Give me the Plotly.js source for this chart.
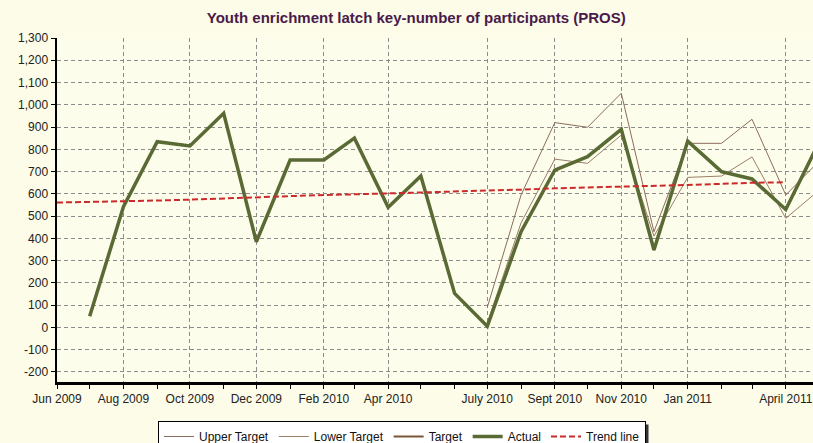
<!DOCTYPE html>
<html>
<head>
<meta charset="utf-8">
<script src="https://cdn.plot.ly/plotly-3.0.1.min.js"></script>
<style>
  html, body { margin: 0; padding: 0; background: #fcfce8; }
  #chart { width: 813px; height: 443px; }
</style>
</head>
<body>
<div id="chart"></div>
<script>
// Months (categories)
var months = ['2009-06-01','2009-07-01','2009-08-01','2009-09-01','2009-10-01','2009-11-01','2009-12-01',
  '2010-01-01','2010-02-01','2010-03-01','2010-04-01','2010-05-01','2010-06-01','2010-07-01','2010-08-01',
  '2010-09-01','2010-10-01','2010-11-01','2010-12-01','2011-01-01','2011-02-01','2011-03-01','2011-04-01','2011-05-01'];

// Series values (null = no value)
var actual = [null, 50, 542, 834, 815, 962, 385, 752, 752, 850, 540, 680, 153, 5, 430, 707, 767, 890, 348, 837, 700, 667, 530, 826];
var upperTarget = [null, null, null, null, null, null, null, null, null, null, null, null, null, 90, 595, 920, 899, 1052, 430, 827, 827, 935, 595, 744];
var lowerTarget = [null, null, null, null, null, null, null, null, null, null, null, null, null, 20, 470, 756, 737, 864, 410, 674, 680, 766, 490, 614];
var target = [null, null, null, null, null, null, null, null, null, null, null, null, null, 5, 430, 707, 767, 890, 348, 837, 700, 667, 530, 826];
var trend = [561, 563, 566, 570, 574, 580, 586, 590, 595, 598, 602, 606, 610, 613, 619, 625, 628, 632, 636, 640, 645, 650, 652, null];

// Tick labels
var xTickVals = ['2009-06-01','2009-08-01','2009-10-01','2009-12-01','2010-02-01','2010-04-01','2010-07-01','2010-09-01','2010-11-01','2011-01-01','2011-04-01'];
var xTickText = ['Jun 2009','Aug 2009','Oct 2009','Dec 2009','Feb 2010','Apr 2010','July 2010','Sept 2010','Nov 2010','Jan 2011','April 2011'];
var yTickVals = [-200,-100,0,100,200,300,400,500,600,700,800,900,1000,1100,1200,1300];
var yTickText = yTickVals.map(function(v){ return v.toLocaleString('en-US'); });

var traces = [
  {name: 'Upper Target', x: months, y: upperTarget, type: 'scatter', mode: 'lines',
   line: {color: '#8a6d5c', width: 1}},
  {name: 'Lower Target', x: months, y: lowerTarget, type: 'scatter', mode: 'lines',
   line: {color: '#9a7f66', width: 1}},
  {name: 'Target', x: months, y: target, type: 'scatter', mode: 'lines',
   line: {color: '#7a5535', width: 2}},
  {name: 'Actual', x: months, y: actual, type: 'scatter', mode: 'lines',
   line: {color: '#5a6a35', width: 3.5}},
  {name: 'Trend line', x: months, y: trend, type: 'scatter', mode: 'lines',
   line: {color: '#cc2a2a', width: 2, dash: '6px,3px'}}
];

var W = 813, H = 443, L = 57, R = 0, T = 38, B = 61;

var layout = {
  width: W, height: H,
  margin: {l: L, r: R, t: T, b: B, pad: 0, autoexpand: false},
  paper_bgcolor: '#fcfce8',
  plot_bgcolor: '#fdfdec',
  title: {text: '<b>Youth enrichment latch key-number of participants (PROS)</b>',
          font: {family: 'Liberation Sans Narrow, Arial Narrow, Liberation Sans, Arial, sans-serif', size: 15, color: '#4a1a4a'},
          x: 0.512, xanchor: 'center', y: 0.96, yanchor: 'middle'},
  font: {family: 'Liberation Sans, Arial, sans-serif', size: 12, color: '#222'},
  showlegend: true,
  legend: {orientation: 'h', xref: 'container', x: 158 / W, xanchor: 'left',
           yref: 'container', y: 1 - 421 / H, yanchor: 'top',
           bgcolor: '#ffffff', bordercolor: '#000000', borderwidth: 1,
           font: {size: 12, color: '#111'}, itemwidth: 30, traceorder: 'normal'},
  xaxis: {
    type: 'date',
    range: ['2009-06-01', '2011-04-26'],
    tickmode: 'array', tickvals: xTickVals, ticktext: xTickText,
    ticks: 'outside', ticklen: 4, tickcolor: '#000',
    showgrid: true, gridcolor: '#8c8c8c', griddash: '4px,3px', gridwidth: 1,
    showline: true, linecolor: '#000', linewidth: 2.5,
    minor: {dtick: 'M1', tick0: '2009-06-01', ticks: 'outside', ticklen: 4, tickcolor: '#000', showgrid: false},
    zeroline: false, fixedrange: true, automargin: false, tickfont: {size: 12, color: '#222'}
  },
  yaxis: {
    range: [-245, 1300],
    tickmode: 'array', tickvals: yTickVals, ticktext: yTickText,
    ticks: 'outside', ticklen: 4, tickcolor: '#000',
    showgrid: true, gridcolor: '#8c8c8c', griddash: '4px,3px', gridwidth: 1,
    showline: true, linecolor: '#000', linewidth: 2.5,
    zeroline: false, fixedrange: true, automargin: false, tickfont: {size: 12, color: '#222'}
  }
};

Plotly.newPlot('chart', traces, layout, {displayModeBar: false, staticPlot: true}).then(function(gd){
  // legend drop shadow on its right edge, positioned from the rendered legend box
  var bg = gd.querySelector('.legend .bg');
  if (!bg) return;
  var r = bg.getBoundingClientRect();
  var fs = gd._fullLayout._size;
  function pxx(x){ return (x - fs.l) / fs.w; }
  function pyy(y){ return (fs.t + fs.h - y) / fs.h; }
  return Plotly.relayout(gd, {shapes: [
    {type: 'rect', xref: 'paper', yref: 'paper', x0: pxx(r.right), x1: pxx(r.right + 3),
     y0: pyy(r.bottom + 3), y1: pyy(r.top + 3), fillcolor: '#333333', line: {width: 0}, layer: 'above'}
  ]});
});
</script>
</body>
</html>
